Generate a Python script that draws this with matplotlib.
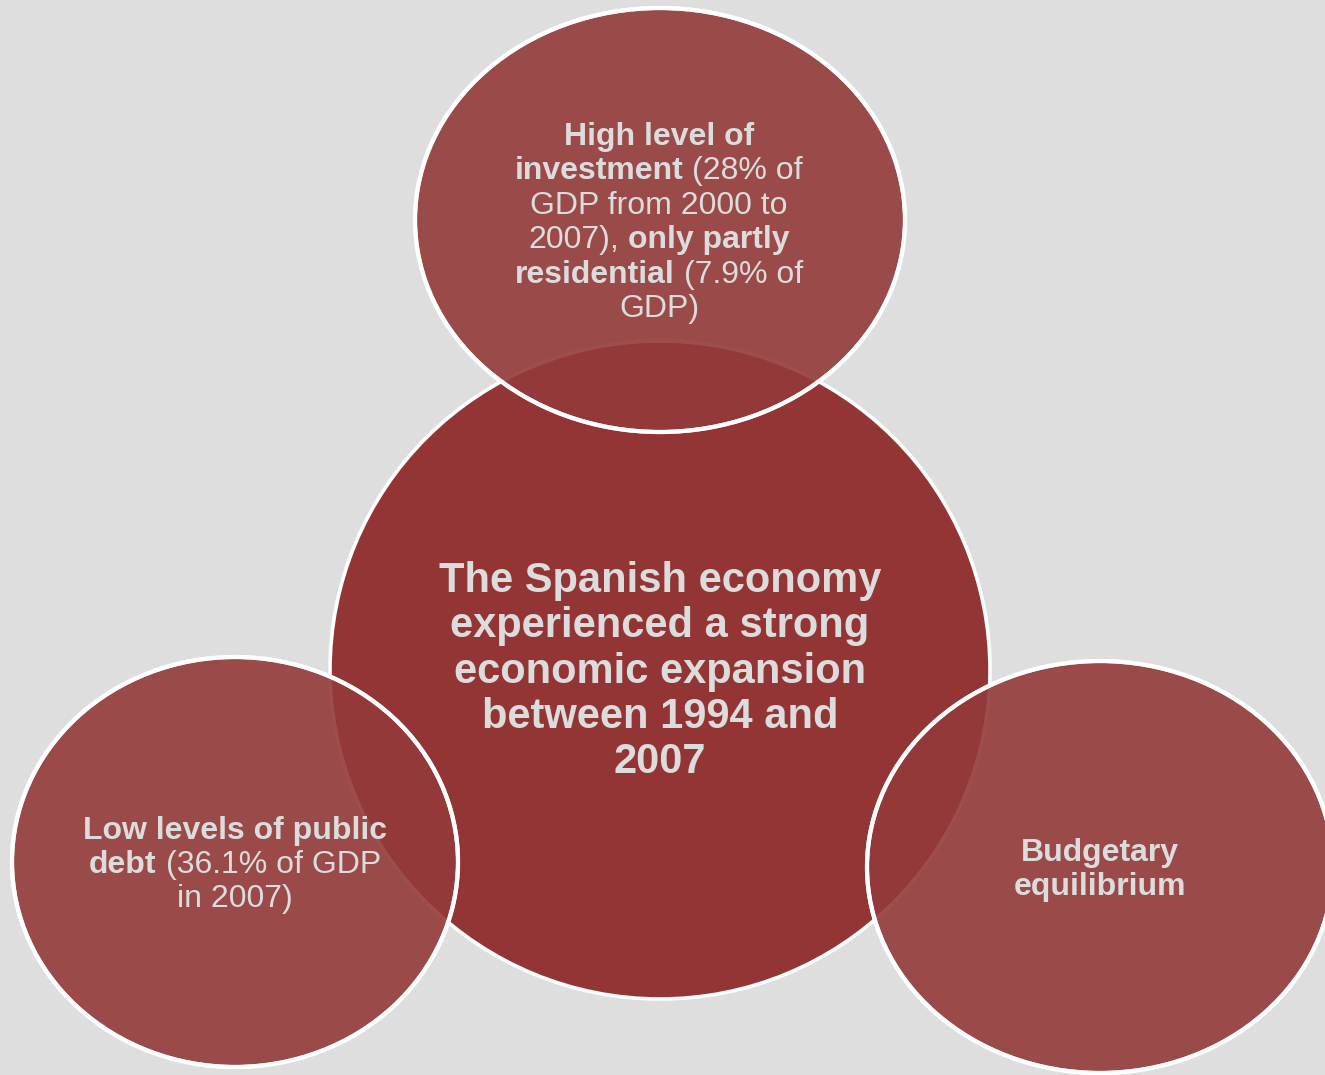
import matplotlib
matplotlib.use("Agg")
import matplotlib.pyplot as plt
from matplotlib.patches import Ellipse

plt.rcParams["font.family"] = ["Liberation Sans", "DejaVu Sans"]

# ---- content -------------------------------------------------------------
core_lines = [
    [("The Spanish economy", True)],
    [("experienced a strong", True)],
    [("economic expansion", True)],
    [("between 1994 and", True)],
    [("2007", True)],
]
top_lines = [
    [("High level of", True)],
    [("investment", True), ("(28% of", False)],
    [("GDP from 2000 to", False)],
    [("2007),", False), ("only partly", True)],
    [("residential", True), ("(7.9% of", False)],
    [("GDP)", False)],
]
left_lines = [
    [("Low levels of public", True)],
    [("debt", True), ("(36.1% of GDP", False)],
    [("in 2007)", False)],
]
right_lines = [
    [("Budgetary", True)],
    [("equilibrium", True)],
]

# ---- styling -------------------------------------------------------------
BG = "#DEDEDE"
CORE = "#933535"
SAT = "#943A3A"
TXT = "#DCDCDC"

W, H = 1325, 1075
fig = plt.figure(figsize=(W / 100, H / 100), dpi=100, facecolor=BG)
ax = fig.add_axes([0, 0, 1, 1])
ax.set_xlim(0, W)
ax.set_ylim(H, 0)
ax.set_aspect("equal")
ax.axis("off")
ax.set_facecolor(BG)

# central circle
ax.add_patch(Ellipse((660, 670), 660, 658, facecolor=CORE, edgecolor="white",
                     linewidth=2.6, zorder=1))

# satellite ellipses (slightly translucent so the core outline shows through)
satellites = [
    ((660, 220), 490, 424),
    ((235, 862), 446, 410),
    ((1100, 867), 466, 412),
]
for (cx, cy), w, h in satellites:
    ax.add_patch(Ellipse((cx, cy), w, h, facecolor=SAT, edgecolor="white",
                         linewidth=3.0, alpha=0.9, zorder=2))
    ax.add_patch(Ellipse((cx, cy), w, h, facecolor="none", edgecolor="white",
                         linewidth=3.0, zorder=3))

fig.canvas.draw()
renderer = fig.canvas.get_renderer()


def write_block(lines, cx, y0, step, size):
    """Lay out centred lines made of bold / regular runs."""
    probe1 = ax.text(0, 0, "x x", fontsize=size)
    probe2 = ax.text(0, 0, "xx", fontsize=size)
    space = (probe1.get_window_extent(renderer).width
             - probe2.get_window_extent(renderer).width)
    probe1.remove()
    probe2.remove()
    for i, line in enumerate(lines):
        y = y0 + i * step
        texts, widths = [], []
        for seg, bold in line:
            t = ax.text(0, y, seg, fontsize=size, color=TXT, va="baseline",
                        ha="left", fontweight="bold" if bold else "normal",
                        zorder=5)
            texts.append(t)
            widths.append(t.get_window_extent(renderer).width)
        total = sum(widths) + space * (len(widths) - 1)
        x = cx - total / 2
        for t, w in zip(texts, widths):
            t.set_x(x)
            x += w + space


write_block(core_lines, 660, 592, 45.3, 30)
write_block(top_lines, 659, 145, 34.4, 23)
write_block(left_lines, 235, 839, 34, 23)
write_block(right_lines, 1100, 861, 34, 23)

fig.savefig("out.png", dpi=100, facecolor=BG)
